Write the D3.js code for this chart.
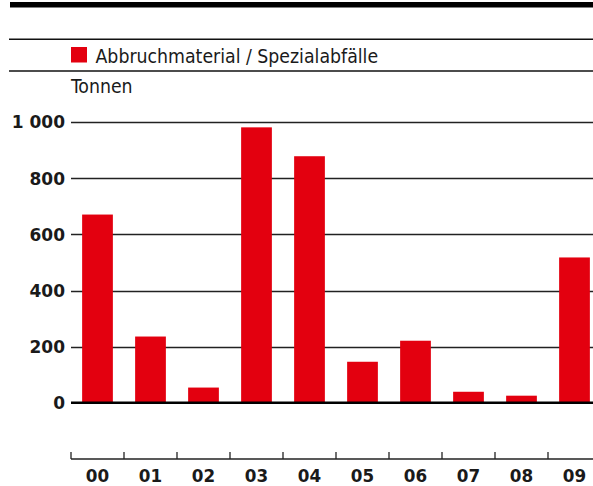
<!DOCTYPE html>
<html>
<head>
<meta charset="utf-8">
<script src="https://cdn.jsdelivr.net/npm/d3@7"></script>
<style>
  body { margin: 0; background: #fff; }
  .head-text { font-family: "Liberation Sans Narrow", "DejaVu Sans Condensed", sans-serif; font-size: 19.3px; fill: #1a1a1a; }
  .tick-text { font-family: "DejaVu Sans", sans-serif; font-weight: bold; font-size: 16.8px; fill: #1a1a1a; }
</style>
</head>
<body>
<div class="g-chart"></div>
<script>
// data
var years = ["00", "01", "02", "03", "04", "05", "06", "07", "08", "09"];
var tonnes = [671, 236, 54, 982, 879, 146, 221, 39, 25, 518];
var yTicks = [0, 200, 400, 600, 800, 1000];
var seriesName = "Abbruchmaterial / Spezialabfälle";
var unitLabel = "Tonnen";

var width = 593;
var height = 486;
var red = "#e3000f";

var svg = d3.select(".g-chart")
  .append("svg")
  .attr("width", width)
  .attr("height", height);

// header rules
svg.append("rect")
  .attr("x", 10).attr("y", 2)
  .attr("width", width - 10).attr("height", 5.5)
  .style("fill", "#000");

[39.3, 71].forEach(function(y){
  svg.append("line")
    .attr("x1", 9).attr("x2", width)
    .attr("y1", y).attr("y2", y)
    .style("stroke", "#111")
    .style("stroke-width", 1.5);
});

// legend
svg.append("rect")
  .attr("x", 71).attr("y", 47)
  .attr("width", 16).attr("height", 15.5)
  .style("fill", red);

svg.append("text")
  .attr("class", "head-text")
  .attr("x", 95.5).attr("y", 63.3)
  .text(seriesName);

svg.append("text")
  .attr("class", "head-text")
  .attr("x", 71).attr("y", 92.7)
  .text(unitLabel);

// scales
var x = d3.scaleBand()
  .domain(years)
  .range([71, 601])
  .paddingInner(0.42)
  .paddingOuter(0.21);

var y = d3.scaleLinear()
  .domain([0, 1000])
  .range([402.7, 122.3]);

var fmt = function(d){
  return d3.format(",")(d).replace(",", " ");
};

// grid
var grid = svg.append("g");
grid.selectAll(".grid-line")
  .data(yTicks.filter(function(d){ return d > 0; }))
  .enter()
  .append("line")
  .attr("class", "grid-line")
  .attr("x1", 71).attr("x2", width)
  .attr("y1", function(d){ return Math.round(y(d)) + 0.5; })
  .attr("y2", function(d){ return Math.round(y(d)) + 0.5; })
  .style("stroke", "#222")
  .style("stroke-width", 1.3);

grid.selectAll(".y-label")
  .data(yTicks)
  .enter()
  .append("text")
  .attr("class", "tick-text y-label")
  .attr("x", 65)
  .attr("y", function(d){ return y(d); })
  .attr("dy", "0.36em")
  .attr("text-anchor", "end")
  .style("font-size", "17px")
  .text(fmt);

// bars
svg.selectAll(".bar")
  .data(tonnes)
  .enter()
  .append("rect")
  .attr("class", "bar")
  .attr("x", function(d, i){ return x(years[i]); })
  .attr("width", x.bandwidth())
  .attr("y", function(d){ return y(d); })
  .attr("height", function(d){ return y(0) - y(d); })
  .style("fill", red);

// zero line
svg.append("line")
  .attr("x1", 71).attr("x2", width)
  .attr("y1", y(0)).attr("y2", y(0))
  .style("stroke", "#000")
  .style("stroke-width", 2.5);

// category axis at the bottom
var axisY = 459;
var step = x.step();
var tickX = years.map(function(d){ return x(d) - step * x.paddingInner() / 2; });

svg.append("line")
  .attr("x1", 71).attr("x2", width)
  .attr("y1", axisY).attr("y2", axisY)
  .style("stroke", "#222")
  .style("stroke-width", 1.5);

svg.selectAll(".x-tick")
  .data(tickX)
  .enter()
  .append("line")
  .attr("class", "x-tick")
  .attr("x1", function(d){ return d; })
  .attr("x2", function(d){ return d; })
  .attr("y1", axisY - 7).attr("y2", axisY)
  .style("stroke", "#222")
  .style("stroke-width", 1.3);

svg.selectAll(".x-label")
  .data(years)
  .enter()
  .append("text")
  .attr("class", "tick-text x-label")
  .attr("x", function(d){ return x(d) + x.bandwidth() / 2; })
  .attr("y", 482.3)
  .attr("text-anchor", "middle")
  .text(function(d){ return d; });
</script>
</body>
</html>
